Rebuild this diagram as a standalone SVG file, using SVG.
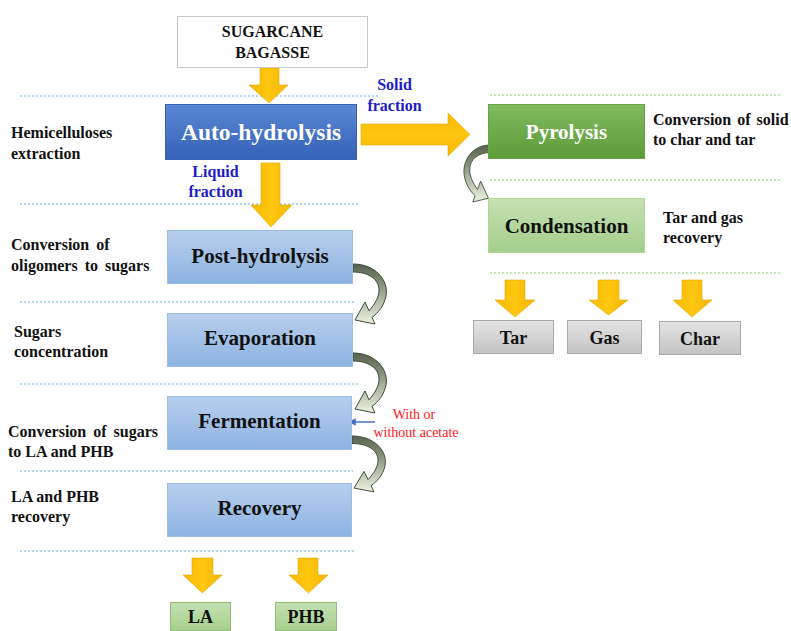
<svg xmlns="http://www.w3.org/2000/svg" width="791" height="631" viewBox="0 0 791 631">
  <style>
    .lbl { font-family: "Liberation Serif", "Times New Roman", serif; font-weight: bold; font-size: 16px; fill: #111; }
    .frac { font-family: "Liberation Serif", "Times New Roman", serif; font-weight: bold; font-size: 16px; fill: #1c1cc8; }
    .box-t { font-family: "Liberation Serif", "Times New Roman", serif; font-weight: bold; font-size: 21px; text-anchor: middle; fill: #111; }
    .box-w { font-family: "Liberation Serif", "Times New Roman", serif; font-weight: bold; font-size: 21px; text-anchor: middle; fill: #fff; }
    .prod-t { font-family: "Liberation Serif", "Times New Roman", serif; font-weight: bold; font-size: 18px; text-anchor: middle; fill: #111; }
    .note { font-family: "Liberation Serif", "Times New Roman", serif; font-size: 14px; text-anchor: middle; fill: #ff2020; }
    .dash-b { stroke: #5db3db; stroke-width: 1; stroke-dasharray: 2 2; fill: none; }
    .dash-g { stroke: #86d366; stroke-width: 1.2; stroke-dasharray: 2 2; fill: none; }
    .yarrow { fill: url(#gYellow); stroke: #e3a900; stroke-width: 0.6; }
    .curve { fill: url(#gCurve); stroke: #3d4a38; stroke-width: 1; }
  </style>
  <defs>
    <linearGradient id="gYellow" x1="0" y1="0" x2="1" y2="0">
      <stop offset="0" stop-color="#f7b900"/>
      <stop offset="0.5" stop-color="#ffc710"/>
      <stop offset="1" stop-color="#f5b600"/>
    </linearGradient>
    <linearGradient id="gYellowH" x1="0" y1="0" x2="0" y2="1">
      <stop offset="0" stop-color="#f7b900"/>
      <stop offset="0.5" stop-color="#ffc710"/>
      <stop offset="1" stop-color="#f5b600"/>
    </linearGradient>
    <linearGradient id="gBlueDark" x1="0" y1="0" x2="0" y2="1">
      <stop offset="0" stop-color="#5b88d5"/>
      <stop offset="1" stop-color="#3461b6"/>
    </linearGradient>
    <linearGradient id="gBlueLight" x1="0" y1="0" x2="0" y2="1">
      <stop offset="0" stop-color="#b7cfed"/>
      <stop offset="1" stop-color="#8db3e2"/>
    </linearGradient>
    <linearGradient id="gGreenDark" x1="0" y1="0" x2="0" y2="1">
      <stop offset="0" stop-color="#80bb5f"/>
      <stop offset="1" stop-color="#5d9b37"/>
    </linearGradient>
    <linearGradient id="gGreenLight" x1="0" y1="0" x2="0" y2="1">
      <stop offset="0" stop-color="#c5e1b3"/>
      <stop offset="1" stop-color="#a4ce8a"/>
    </linearGradient>
    <linearGradient id="gGray" x1="0" y1="0" x2="0" y2="1">
      <stop offset="0" stop-color="#e4e4e4"/>
      <stop offset="1" stop-color="#c3c3c3"/>
    </linearGradient>
    <linearGradient id="gCurve" x1="0" y1="0" x2="0" y2="1">
      <stop offset="0" stop-color="#56624e"/>
      <stop offset="0.3" stop-color="#7f8b74"/>
      <stop offset="1" stop-color="#eef5e3"/>
    </linearGradient>
    <!-- curved connector from the right edge of one step down to the next -->
    <path id="curveArrow" class="curve" d="M0,0 C22,0 36,16 33,32 C31,42 25,49 19,53.4 L22,60 L2,56 L12,38 L16,46.8 C22,40 26,33 26,26 C26,15 15,8 0,8 Z"/>
    <marker id="mBlue" viewBox="0 0 10 10" refX="9" refY="5" markerWidth="5" markerHeight="5" orient="auto">
      <path d="M0,0 L10,5 L0,10 Z" fill="#4472c4"/>
    </marker>
  </defs>

  <!-- section separators -->
  <g id="separators">
    <line class="dash-b" x1="20" y1="96" x2="380" y2="96"/>
    <line class="dash-b" x1="20" y1="204" x2="358" y2="204"/>
    <line class="dash-b" x1="20" y1="302" x2="355" y2="302"/>
    <line class="dash-b" x1="20" y1="384" x2="358" y2="384"/>
    <line class="dash-b" x1="20" y1="471" x2="353" y2="471"/>
    <line class="dash-b" x1="20" y1="551" x2="355" y2="551"/>
    <line class="dash-g" x1="490" y1="95" x2="782" y2="95"/>
    <line class="dash-g" x1="490" y1="180" x2="780" y2="180"/>
    <line class="dash-g" x1="490" y1="273" x2="780" y2="273"/>
  </g>

  <!-- connectors -->
  <g id="connectors">
    <path class="yarrow" d="M260,68 H279 V85 H288 L269,103 L249,85 H260 Z"/>
    <path class="yarrow" d="M261,163 H280 V205 H292 L271,227 L251,205 H261 Z"/>
    <path class="yarrow" style="fill:url(#gYellowH)" d="M361,124 H448 V113 L470,134.5 L448,156 V145 H361 Z"/>
    <path class="yarrow" d="M505,280 H525 V300 H535 L515,317 L495,300 H505 Z"/>
    <path class="yarrow" d="M598,280 H619 V300 H628 L608.5,315 L589,300 H598 Z"/>
    <path class="yarrow" d="M682,280 H702 V300 H712 L692,317 L673,300 H682 Z"/>
    <path class="yarrow" d="M192,558 H213 V575 H222 L202.5,593 L183,575 H192 Z"/>
    <path class="yarrow" d="M298,558 H318 V575 H328 L308.5,593 L289,575 H298 Z"/>
    <use href="#curveArrow" transform="translate(353,264)"/>
    <use href="#curveArrow" transform="translate(353,353)"/>
    <use href="#curveArrow" transform="translate(352,436) scale(1,0.93)"/>
    <use href="#curveArrow" transform="translate(490,145) scale(-0.78,0.95)"/>
    <line x1="375" y1="422" x2="349" y2="422" stroke="#4472c4" stroke-width="1.5" marker-end="url(#mBlue)"/>
  </g>

  <g id="n-bagasse">
    <rect x="177.5" y="16.5" width="190" height="51" fill="#fff" stroke="#c9c9c9"/>
    <text class="lbl" x="272.5" y="37" text-anchor="middle">SUGARCANE</text>
    <text class="lbl" x="272.5" y="58" text-anchor="middle">BAGASSE</text>
  </g>

  <g id="n-autohydrolysis">
    <rect x="165.5" y="104.5" width="191" height="55" fill="url(#gBlueDark)" stroke="#3a64b3"/>
    <text class="box-w" x="261" y="140" style="font-size:23.5px">Auto-hydrolysis</text>
  </g>

  <g id="n-posthydrolysis">
    <rect x="167.5" y="230.5" width="185" height="53" fill="url(#gBlueLight)" stroke="#9dbde4"/>
    <text class="box-t" x="260" y="263">Post-hydrolysis</text>
  </g>

  <g id="n-evaporation">
    <rect x="167.5" y="313.5" width="185" height="53" fill="url(#gBlueLight)" stroke="#9dbde4"/>
    <text class="box-t" x="260" y="345">Evaporation</text>
  </g>

  <g id="n-fermentation">
    <rect x="167.5" y="396.5" width="184" height="53" fill="url(#gBlueLight)" stroke="#9dbde4"/>
    <text class="box-t" x="259.5" y="428">Fermentation</text>
  </g>

  <g id="n-recovery">
    <rect x="167.5" y="483.5" width="184" height="53" fill="url(#gBlueLight)" stroke="#9dbde4"/>
    <text class="box-t" x="259.5" y="515">Recovery</text>
  </g>

  <g id="n-pyrolysis">
    <rect x="488.5" y="104.5" width="156" height="54" fill="url(#gGreenDark)" stroke="#6aa345"/>
    <text class="box-w" x="566.5" y="139">Pyrolysis</text>
  </g>

  <g id="n-condensation">
    <rect x="488.5" y="198.5" width="156" height="54" fill="url(#gGreenLight)" stroke="#b0d49a"/>
    <text class="box-t" x="566.5" y="233">Condensation</text>
  </g>

  <g id="n-tar">
    <rect x="473.5" y="320.5" width="80" height="33" fill="url(#gGray)" stroke="#a9a9a9"/>
    <text class="prod-t" x="513.5" y="344">Tar</text>
  </g>
  <g id="n-gas">
    <rect x="567.5" y="320.5" width="74" height="33" fill="url(#gGray)" stroke="#a9a9a9"/>
    <text class="prod-t" x="604.5" y="344">Gas</text>
  </g>
  <g id="n-char">
    <rect x="659.5" y="321.5" width="81" height="33" fill="url(#gGray)" stroke="#a9a9a9"/>
    <text class="prod-t" x="700" y="345">Char</text>
  </g>

  <g id="n-la">
    <rect x="170.5" y="602.5" width="60" height="28" fill="url(#gGreenLight)" stroke="#8fbd78"/>
    <text class="prod-t" x="200.5" y="623">LA</text>
  </g>
  <g id="n-phb">
    <rect x="275.5" y="602.5" width="61" height="28" fill="url(#gGreenLight)" stroke="#8fbd78"/>
    <text class="prod-t" x="306" y="623">PHB</text>
  </g>

  <!-- fraction labels -->
  <g id="fraction-labels">
    <text class="frac" x="394.5" y="90" text-anchor="middle">Solid</text>
    <text class="frac" x="394.5" y="111" text-anchor="middle">fraction</text>
    <text class="frac" x="215.5" y="177" text-anchor="middle">Liquid</text>
    <text class="frac" x="215.5" y="197" text-anchor="middle">fraction</text>
  </g>

  <!-- stage descriptions -->
  <g id="stage-labels">
    <text class="lbl" x="11" y="138">Hemicelluloses</text>
    <text class="lbl" x="11" y="159">extraction</text>
    <text class="lbl" x="11" y="250" word-spacing="3">Conversion of</text>
    <text class="lbl" x="11" y="271" word-spacing="3">oligomers to sugars</text>
    <text class="lbl" x="14" y="337">Sugars</text>
    <text class="lbl" x="14" y="357">concentration</text>
    <text class="lbl" x="8" y="437" word-spacing="3">Conversion of sugars</text>
    <text class="lbl" x="8" y="457">to LA and PHB</text>
    <text class="lbl" x="11" y="502">LA and PHB</text>
    <text class="lbl" x="11" y="522">recovery</text>
    <text class="lbl" x="653" y="125" word-spacing="2">Conversion of solid</text>
    <text class="lbl" x="653" y="145">to char and tar</text>
    <text class="lbl" x="663" y="223">Tar and gas</text>
    <text class="lbl" x="663" y="243">recovery</text>
    <text class="note" x="414" y="419">With or</text>
    <text class="note" x="416" y="437">without acetate</text>
  </g>
</svg>
